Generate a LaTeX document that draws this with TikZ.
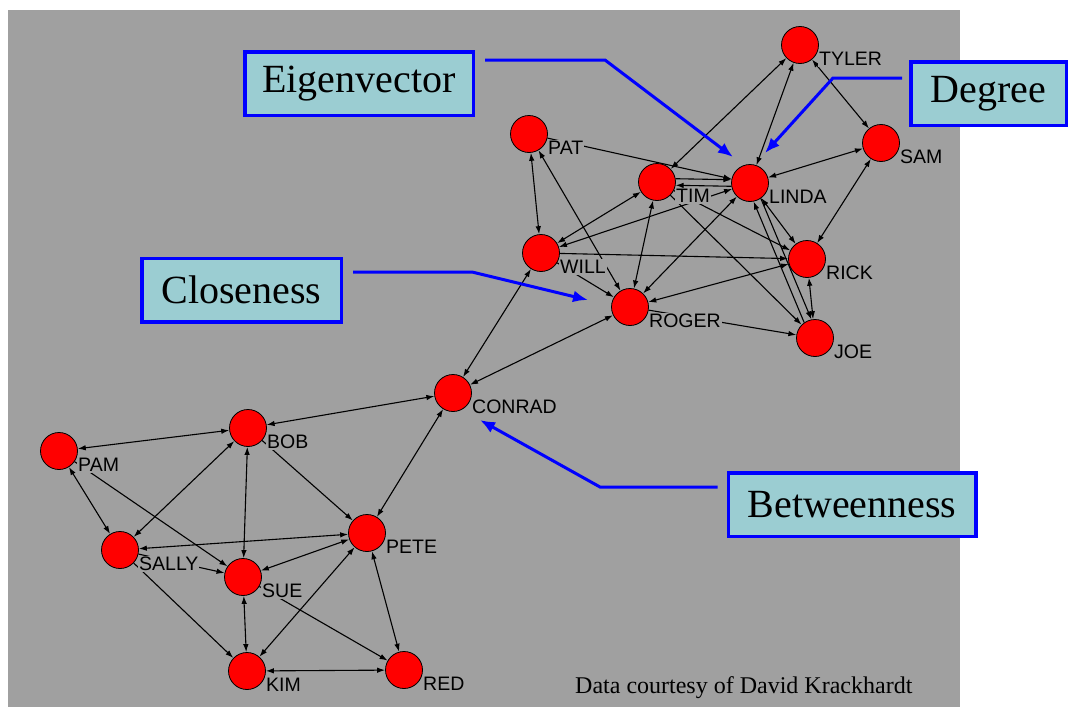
\documentclass[tikz,border=0pt]{standalone}
\usepackage{fontspec}
\setmainfont{Liberation Serif}
\setsansfont{Liberation Sans}
\usetikzlibrary{calc}
\usetikzlibrary{positioning}
\usetikzlibrary{arrows.meta}
\definecolor{slidegray}{RGB}{160,160,160}
\definecolor{boxteal}{RGB}{155,205,210}
\tikzstyle{person} = [circle, draw=black, line width=0.8pt, fill=red, minimum size=37pt, inner sep=0pt]
\tikzstyle{plabel} = [anchor=west, fill=slidegray, inner sep=1pt, font=\sffamily\fontsize{19.5}{20}\selectfont]
\tikzstyle{onelink} = [draw, line width=1.1pt, -{Latex[length=8pt,width=5.5pt]}]
\tikzstyle{twolink} = [draw, line width=1.1pt, {Latex[length=8pt,width=5.5pt]}-{Latex[length=8pt,width=5.5pt]}]
\tikzstyle{measure} = [draw=blue, line width=3.5pt, fill=boxteal, minimum height=63.5pt, inner sep=0pt, font=\fontsize{40}{40}\selectfont]
\tikzstyle{pointer} = [draw=blue, line width=3pt, -{Latex[length=15pt,width=12pt]}]
\pgfdeclarelayer{bg}
\pgfdeclarelayer{edges}
\pgfsetlayers{bg,edges,main}

\begin{document}
\begin{tikzpicture}[x=1pt, y=-1pt]
    \useasboundingbox (0,0) rectangle (1081,720);
    \begin{pgfonlayer}{bg}
        \fill[white] (0,0) rectangle (1081,720);
        \fill[slidegray] (8,10) rectangle (960,707);
    \end{pgfonlayer}

    % upper group
    \node[person] (tyler) at (800,45) {};
    \node[person] (pat) at (529,134) {};
    \node[person] (sam) at (881,143) {};
    \node[person] (tim) at (657,182) {};
    \node[person] (linda) at (750,183) {};
    \node[person] (will) at (541,253) {};
    \node[person] (rick) at (807,259) {};
    \node[person] (roger) at (630,307) {};
    \node[person] (joe) at (815,338) {};
    % bridge
    \node[person] (conrad) at (453,393) {};
    % lower group
    \node[person] (bob) at (248,428) {};
    \node[person] (pam) at (59,451) {};
    \node[person] (pete) at (367,533) {};
    \node[person] (sally) at (120,550) {};
    \node[person] (sue) at (243,577) {};
    \node[person] (kim) at (247,671) {};
    \node[person] (red) at (404,670) {};

    \node[plabel] (tyler_lbl) at ($(tyler)+(18,14)$) {TYLER};
    \node[plabel] (pat_lbl) at ($(pat)+(18,14)$) {PAT};
    \node[plabel] (sam_lbl) at ($(sam)+(18,14)$) {SAM};
    \node[plabel] (tim_lbl) at ($(tim)+(18,14)$) {TIM};
    \node[plabel] (linda_lbl) at ($(linda)+(18,14)$) {LINDA};
    \node[plabel] (will_lbl) at ($(will)+(18,14)$) {WILL};
    \node[plabel] (rick_lbl) at ($(rick)+(18,14)$) {RICK};
    \node[plabel] (roger_lbl) at ($(roger)+(18,14)$) {ROGER};
    \node[plabel] (joe_lbl) at ($(joe)+(18,14)$) {JOE};
    \node[plabel] (conrad_lbl) at ($(conrad)+(18,14)$) {CONRAD};
    \node[plabel] (bob_lbl) at ($(bob)+(18,14)$) {BOB};
    \node[plabel] (pam_lbl) at ($(pam)+(18,14)$) {PAM};
    \node[plabel] (pete_lbl) at ($(pete)+(18,14)$) {PETE};
    \node[plabel] (sally_lbl) at ($(sally)+(18,14)$) {SALLY};
    \node[plabel] (sue_lbl) at ($(sue)+(18,14)$) {SUE};
    \node[plabel] (kim_lbl) at ($(kim)+(18,14)$) {KIM};
    \node[plabel] (red_lbl) at ($(red)+(18,14)$) {RED};

    \begin{pgfonlayer}{edges}
        \draw[twolink] (tim) -- (tyler);
        \draw[twolink] (linda) -- (tyler);
        \draw[twolink] (sam) -- (tyler);
        \draw[twolink] (linda) -- (sam);
        \draw[twolink] (rick) -- (sam);
        \draw[onelink] (pat) -- (linda);
        \draw[twolink] (pat) -- (will);
        \draw[twolink] (pat) -- (roger);
        \draw[onelink] (tim.10) -- (linda.170);
        \draw[onelink] (linda.-170) -- (tim.-10);
        \draw[twolink] (tim) -- (will);
        \draw[twolink] (linda) -- (will);
        \draw[twolink] (tim) -- (roger);
        \draw[onelink] (tim) -- (rick);
        \draw[onelink] (tim) -- (joe);
        \draw[twolink] (linda) -- (roger);
        \draw[twolink] (linda) -- (rick);
        \draw[onelink] (linda.-55) -- (joe.101);
        \draw[onelink] (joe.125) -- (linda.-79);
        \draw[onelink] (will) -- (rick);
        \draw[onelink] (will) -- (roger);
        \draw[twolink] (rick) -- (roger);
        \draw[twolink] (rick) -- (joe);
        \draw[onelink] (roger) -- (joe);

        \draw[twolink] (will) -- (conrad);
        \draw[twolink] (roger) -- (conrad);
        \draw[twolink] (bob) -- (conrad);
        \draw[twolink] (pete) -- (conrad);

        \draw[twolink] (pam) -- (bob);
        \draw[twolink] (pam) -- (sally);
        \draw[onelink] (pam) -- (sue);
        \draw[twolink] (bob) -- (sally);
        \draw[twolink] (bob) -- (sue);
        \draw[onelink] (bob) -- (pete);
        \draw[twolink] (sally) -- (pete);
        \draw[onelink] (sally) -- (sue);
        \draw[onelink] (sally) -- (kim);
        \draw[twolink] (sue) -- (pete);
        \draw[twolink] (sue) -- (kim);
        \draw[onelink] (sue) -- (red);
        \draw[twolink] (pete) -- (kim);
        \draw[twolink] (pete) -- (red);
        \draw[twolink] (kim) -- (red);
    \end{pgfonlayer}

    % centrality call-outs
    \node[measure, minimum width=228.5pt] (eigen) at (359,83.5) {Eigenvector};
    \node[measure, minimum width=155.5pt] (degree) at (988.5,93.5) {Degree};
    \node[measure, minimum width=199.5pt] (close) at (241.5,290) {Closeness};
    \node[measure, minimum width=247.5pt] (between) at (852,504.5) {Betweenness};

    \coordinate (eigen_bend) at (605,60);
    \coordinate (eigen_tip) at (733,157);
    \coordinate (degree_bend) at (833,78);
    \coordinate (degree_tip) at (765,153);
    \coordinate (close_bend) at (472,272);
    \coordinate (close_tip) at (588,300);
    \coordinate (between_bend) at (600,487);
    \coordinate (between_tip) at (480,420);

    \draw[pointer] ([xshift=10pt]eigen.east |- eigen_bend) -- (eigen_bend) -- (eigen_tip);
    \draw[pointer] ([xshift=-7pt]degree.west |- degree_bend) -- (degree_bend) -- (degree_tip);
    \draw[pointer] ([xshift=10pt]close.east |- close_bend) -- (close_bend) -- (close_tip);
    \draw[pointer] ([xshift=-9pt]between.west |- between_bend) -- (between_bend) -- (between_tip);

    \node[anchor=base west, inner sep=0pt, font=\fontsize{24}{24}\selectfont] (credit) at (575,693) {Data courtesy of David Krackhardt};
\end{tikzpicture}
\end{document}
